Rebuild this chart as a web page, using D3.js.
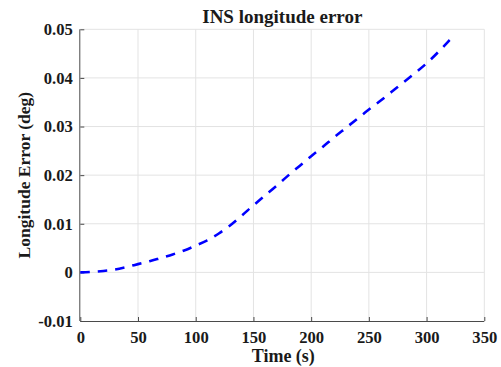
<!DOCTYPE html>
<html>
<head>
<meta charset="utf-8">
<script src="https://cdn.jsdelivr.net/npm/d3@7"></script>
<style>
  html, body { margin: 0; padding: 0; background: #fff; }
  svg { display: block; }
  text { font-family: "Liberation Serif", "Times New Roman", serif; font-weight: bold; fill: #1a1a1a; }
</style>
</head>
<body>
<svg id="chart" width="501" height="367"></svg>
<script>
// ---- data ----
const timeS = [0,10,20,30,40,50,60,70,80,90,100,110,120,130,140,150,160,170,180,190,200,210,220,230,240,250,260,270,280,290,300,310,320];
const lonErrDeg = [0,0.0001,0.0003,0.0006,0.0011,0.0017,0.0023,0.0030,0.0037,0.0045,0.0055,0.0066,0.0080,0.0097,0.0117,0.0138,0.0158,0.0178,0.0199,0.0219,0.0239,0.0258,0.0278,0.0297,0.0316,0.0335,0.0353,0.0372,0.0391,0.0410,0.0430,0.0453,0.0478];
const xTicks = [0,50,100,150,200,250,300,350];
const yTicks = [-0.01,0,0.01,0.02,0.03,0.04,0.05];
const yTickLabels = ["-0.01","0","0.01","0.02","0.03","0.04","0.05"];
const titleText = "INS longitude error";
const xLabel = "Time (s)";
const yLabel = "Longitude Error (deg)";

// ---- layout ----
const svg = d3.select("#chart");
const L = 80.3, R = 484.3, T = 29.3, B = 321;
const x = d3.scaleLinear().domain([0,350]).range([L,R]);
const y = d3.scaleLinear().domain([-0.01,0.05]).range([B,T]);

// grid
const grid = svg.append("g");
grid.selectAll("line.gx").data(xTicks.slice(1)).enter().append("line")
  .attr("x1", d=>x(d)).attr("x2", d=>x(d)).attr("y1", T).attr("y2", B)
  .attr("stroke", "#e3e3e3").attr("stroke-width", 1);
grid.selectAll("line.gy").data(yTicks.slice(1)).enter().append("line")
  .attr("y1", d=>y(d)).attr("y2", d=>y(d)).attr("x1", L).attr("x2", R)
  .attr("stroke", "#e3e3e3").attr("stroke-width", 1);

// axes
const xAxis = d3.axisBottom(x).tickValues(xTicks).tickSize(-4).tickPadding(10).tickFormat(d3.format("d"));
const gx = svg.append("g").attr("transform", `translate(0,${B})`).call(xAxis);
const yAxis = d3.axisLeft(y).tickValues(yTicks).tickSize(-4).tickPadding(7.5).tickFormat((d,i)=>yTickLabels[i]);
const gy = svg.append("g").attr("transform", `translate(${L},0)`).call(yAxis);
[gx, gy].forEach(g => {
  g.select(".domain").attr("stroke", "#4a4a4a").attr("stroke-width", 1);
  g.selectAll(".tick line").attr("stroke", "#4a4a4a");
  g.selectAll(".tick text").attr("fill", "#1a1a1a")
    .style("font-family", "'Liberation Serif', serif").style("font-weight", "bold").style("font-size", "16.6px");
});
gx.select(".domain").attr("d", `M${L},0.5H${R}`);
gy.select(".domain").attr("d", `M-0.5,${T}V${B}`);
gx.selectAll(".tick text").attr("dy", "0.71em").attr("y", 10);

// line
const line = d3.line().x((d,i)=>x(timeS[i])).y(d=>y(d)).curve(d3.curveMonotoneX);
svg.append("path").datum(lonErrDeg)
  .attr("d", line).attr("fill", "none")
  .attr("stroke", "#0000ff").attr("stroke-width", 2.6)
  .attr("stroke-dasharray", "9.5,8");

// title and labels
svg.append("text").attr("x", (L+R)/2).attr("y", 22.5).attr("text-anchor", "middle")
  .style("font-size", "19px").text(titleText);
svg.append("text").attr("x", (L+R)/2 + 1).attr("y", 361.5).attr("text-anchor", "middle")
  .style("font-size", "18px").text(xLabel);
svg.append("text").attr("transform", `translate(30,${(T+B)/2}) rotate(-90)`)
  .attr("text-anchor", "middle").style("font-size", "17.5px").text(yLabel);
</script>
</body>
</html>
